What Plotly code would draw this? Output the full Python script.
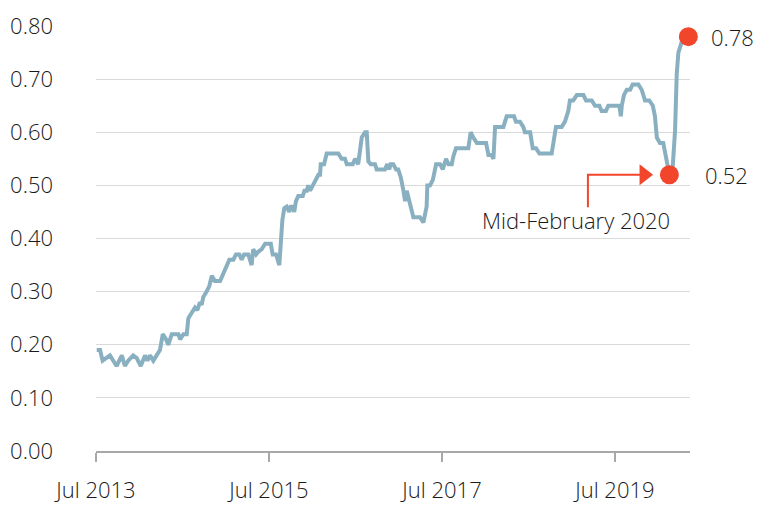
import plotly.graph_objects as go

# traced weekly-ish readings
dates = [
    "2013-07-04", "2013-07-18", "2013-07-29", "2013-08-15", "2013-08-29", "2013-09-12",
    "2013-09-26", "2013-10-18", "2013-10-31", "2013-11-14", "2013-12-05", "2013-12-20",
    "2014-01-06", "2014-01-24", "2014-02-03", "2014-02-14", "2014-02-28", "2014-03-14",
    "2014-03-28", "2014-04-09", "2014-04-23", "2014-05-02", "2014-05-17", "2014-06-14",
    "2014-06-21", "2014-07-05", "2014-07-19", "2014-07-26", "2014-08-09", "2014-08-23",
    "2014-09-02", "2014-09-13", "2014-09-20", "2014-09-27", "2014-10-11", "2014-10-22",
    "2014-11-02", "2014-11-15", "2014-12-07", "2014-12-21", "2015-01-04", "2015-01-15",
    "2015-02-01", "2015-02-12", "2015-02-26", "2015-03-08", "2015-03-18", "2015-04-05",
    "2015-04-19", "2015-04-26", "2015-05-08", "2015-05-17", "2015-06-01", "2015-06-15",
    "2015-07-09", "2015-07-17", "2015-07-31", "2015-08-14", "2015-08-20", "2015-08-27",
    "2015-09-04", "2015-09-14", "2015-09-25", "2015-10-01", "2015-10-10", "2015-10-16",
    "2015-10-23", "2015-11-02", "2015-11-21", "2015-11-28", "2015-12-08", "2015-12-14",
    "2015-12-22", "2016-01-02", "2016-01-12", "2016-01-19", "2016-01-26", "2016-02-02",
    "2016-02-05", "2016-02-19", "2016-03-01", "2016-04-19", "2016-05-03", "2016-05-17",
    "2016-05-25", "2016-06-19", "2016-06-29", "2016-07-12", "2016-07-20", "2016-07-27",
    "2016-08-10", "2016-08-17", "2016-08-24", "2016-09-03", "2016-09-21", "2016-09-28",
    "2016-11-02", "2016-11-12", "2016-11-20", "2016-11-26", "2016-12-07", "2016-12-19",
    "2016-12-28", "2017-01-08", "2017-01-19", "2017-01-26", "2017-02-02", "2017-02-13",
    "2017-02-23", "2017-03-02", "2017-03-30", "2017-04-13", "2017-04-27", "2017-04-30",
    "2017-05-11", "2017-05-23", "2017-06-06", "2017-06-23", "2017-07-04", "2017-07-18",
    "2017-07-28", "2017-08-11", "2017-08-18", "2017-08-29", "2017-10-20", "2017-10-30",
    "2017-11-10", "2017-11-25", "2018-01-03", "2018-01-13", "2018-01-27", "2018-02-03",
    "2018-02-10", "2018-03-17", "2018-03-31", "2018-05-01", "2018-05-09", "2018-05-26",
    "2018-06-09", "2018-06-16", "2018-07-08", "2018-07-19", "2018-08-02", "2018-08-16",
    "2018-10-07", "2018-10-17", "2018-10-25", "2018-11-08", "2018-11-18", "2018-12-02",
    "2018-12-16", "2018-12-23", "2019-01-06", "2019-01-21", "2019-02-18", "2019-03-01",
    "2019-03-25", "2019-04-08", "2019-04-26", "2019-05-06", "2019-05-24", "2019-06-03",
    "2019-07-20", "2019-07-26", "2019-07-30", "2019-08-08", "2019-08-20", "2019-09-03",
    "2019-09-14", "2019-10-08", "2019-10-22", "2019-11-05", "2019-11-23", "2019-12-08",
    "2019-12-17", "2019-12-25", "2020-01-07", "2020-01-21", "2020-01-29", "2020-02-07",
    "2020-02-16", "2020-03-01", "2020-03-11", "2020-03-18", "2020-03-25", "2020-04-08",
    "2020-05-06",
]
values = [
    0.19, 0.19, 0.17, 0.175, 0.18, 0.17,
    0.16, 0.18, 0.16, 0.17, 0.18, 0.175,
    0.16, 0.18, 0.17, 0.18, 0.17, 0.18,
    0.19, 0.22, 0.21, 0.20, 0.22, 0.22,
    0.21, 0.22, 0.22, 0.25, 0.26, 0.27,
    0.265, 0.28, 0.275, 0.29, 0.30, 0.31,
    0.33, 0.32, 0.32, 0.335, 0.35, 0.36,
    0.36, 0.37, 0.37, 0.36, 0.37, 0.37,
    0.35, 0.38, 0.37, 0.375, 0.38, 0.39,
    0.39, 0.37, 0.37, 0.35, 0.39, 0.435,
    0.457, 0.46, 0.45, 0.46, 0.46, 0.45,
    0.47, 0.48, 0.48, 0.49, 0.49, 0.50,
    0.49, 0.50, 0.51, 0.515, 0.52, 0.52,
    0.54, 0.54, 0.56, 0.56, 0.55, 0.55,
    0.54, 0.54, 0.55, 0.54, 0.565, 0.59,
    0.60, 0.60, 0.545, 0.54, 0.54, 0.53,
    0.53, 0.54, 0.53, 0.54, 0.54, 0.53,
    0.53, 0.515, 0.49, 0.47, 0.49, 0.47,
    0.45, 0.44, 0.44, 0.43, 0.46, 0.50,
    0.50, 0.51, 0.54, 0.54, 0.53, 0.55,
    0.54, 0.54, 0.555, 0.57, 0.57, 0.60,
    0.59, 0.58, 0.58, 0.557, 0.557, 0.55,
    0.61, 0.61, 0.63, 0.63, 0.62, 0.62,
    0.61, 0.60, 0.60, 0.57, 0.57, 0.56,
    0.56, 0.59, 0.61, 0.61, 0.61, 0.62,
    0.64, 0.66, 0.66, 0.67, 0.67, 0.66,
    0.66, 0.65, 0.65, 0.64, 0.64, 0.65,
    0.65, 0.63, 0.65, 0.67, 0.68, 0.68,
    0.69, 0.69, 0.68, 0.66, 0.66, 0.65,
    0.63, 0.59, 0.58, 0.58, 0.56, 0.535,
    0.52, 0.535, 0.604, 0.71, 0.75, 0.77,
    0.78,
]

# highlighted points
dot_dates = ["2020-02-16", "2020-05-06"]
dot_values = [0.52, 0.78]
dot_labels = ["0.52", "0.78"]

tick_dates = ["2013-07-01", "2015-07-01", "2017-07-01", "2019-07-01"]
tick_text = ["Jul 2013", "Jul 2015", "Jul 2017", "Jul 2019"]
y_ticks = [0, 0.1, 0.2, 0.3, 0.4, 0.5, 0.6, 0.7, 0.8]

LINE = "#89b0c1"
RED = "#f2462c"
TXT = "#1a1a1a"
FONT = "Open Sans"
WT = 350

fig = go.Figure()

fig.add_trace(go.Scatter(
    x=dates, y=values, mode="lines",
    line=dict(color=LINE, width=4, shape="linear"),
    hoverinfo="skip", cliponaxis=False))

fig.add_trace(go.Scatter(
    x=dot_dates, y=dot_values, mode="markers",
    marker=dict(color=RED, size=19),
    cliponaxis=False, hoverinfo="skip"))

# elbow arrow pointing to the February low
fig.add_shape(type="path",
    path="M 2019-03-09,0.459 L 2019-03-09,0.52 L 2019-10-25,0.52",
    xref="x", yref="y", line=dict(color=RED, width=2))
fig.add_trace(go.Scatter(
    x=["2019-11-01"], y=[0.52], mode="markers",
    marker=dict(symbol="triangle-right", color=RED, size=18, line=dict(width=0)),
    cliponaxis=False, hoverinfo="skip"))

fig.add_annotation(x="2019-01-19", y=0.435, xref="x", yref="y",
    text="Mid-February 2020", showarrow=False,
    font=dict(family=FONT, size=22, color=TXT, weight=WT), xanchor="center")

for d, v, lab, sh in zip(dot_dates, dot_values, dot_labels, [13, 19]):
    fig.add_annotation(x=1, xref="paper", y=v, yref="y", text=lab,
        showarrow=False, xanchor="left", xshift=sh,
        font=dict(family=FONT, size=22, color=TXT, weight=WT))

# page body adds 8px, so the figure is 770x510 with margins shifted to match
fig.update_layout(
    width=770, height=510,
    margin=dict(l=88, r=88, t=18, b=67, autoexpand=False),
    paper_bgcolor="white", plot_bgcolor="white",
    showlegend=False,
    font=dict(family=FONT, size=22, color=TXT, weight=WT),
)

fig.update_xaxes(
    type="date", range=["2013-07-01", "2020-05-13"],
    tickvals=tick_dates, ticktext=tick_text,
    showgrid=False, zeroline=False, automargin=False,
    showline=True, linecolor="#a8a8a8", linewidth=2,
    ticks="outside", ticklen=9, tickwidth=2, tickcolor="#a8a8a8",
    ticklabelstandoff=10,
    tickfont=dict(family=FONT, size=22, color=TXT, weight=WT),
)

fig.update_yaxes(
    range=[0, 0.8], tickvals=y_ticks, tickformat=".2f",
    showgrid=True, gridcolor="#d9d9d9", gridwidth=1,
    zeroline=False, showline=False, ticks="", automargin=False,
    ticklabelstandoff=42,
    tickfont=dict(family=FONT, size=22, color=TXT, weight=WT),
)

fig.write_html("out.html")
